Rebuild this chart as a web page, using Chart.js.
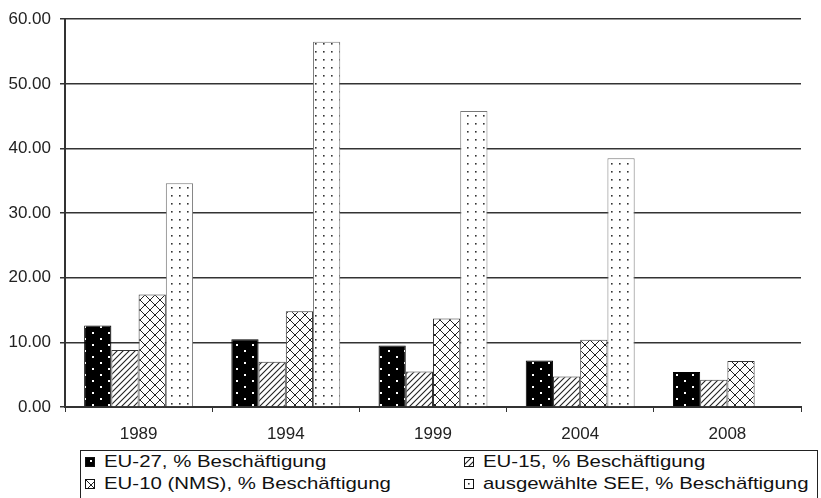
<!DOCTYPE html>
<html>
<head>
<meta charset="utf-8">
<script src="https://cdn.jsdelivr.net/npm/chart.js@4/dist/chart.umd.min.js"></script>
<style>
  html, body { margin: 0; padding: 0; background: #fff; }
  body { width: 821px; height: 498px; overflow: hidden; position: relative;
         font-family: "Liberation Sans", Arial, sans-serif; }
  #wrap { position: absolute; left: 0; top: 0; width: 821px; height: 450px; }
  #legend { position: absolute; left: 80px; top: 450px; width: 738px; height: 54px;
            border: 1px solid #222; box-sizing: border-box; }
  .item { position: absolute; font-size: 17px; color: #111; white-space: nowrap;
          line-height: 22px; display: flex; align-items: center; }
  .item canvas { border: 1px solid #111; margin-right: 9px; }
  .item span { display: inline-block; transform: scaleX(1.2); transform-origin: left center; }
</style>
</head>
<body>
<div id="wrap"><canvas id="chart" width="821" height="450"></canvas></div>
<div id="legend"></div>
<script>
// Survey years on the category axis
const years = ['1989', '1994', '1999', '2004', '2008'];

// Employment shares (%) per region group
const eu27 = [12.6, 10.5, 9.5, 7.2, 5.4];
const eu15 = [8.8, 7.0, 5.5, 4.7, 4.2];
const eu10 = [17.4, 14.8, 13.7, 10.4, 7.1];
const see  = [34.6, 56.5, 45.8, 38.5, null];

const seriesNames = [
  'EU-27, % Beschäftigung',
  'EU-15, % Beschäftigung',
  'EU-10 (NMS), % Beschäftigung',
  'ausgewählte SEE, % Beschäftigung'
];

// Y axis range and step
const yMin = 0, yMax = 60, yStep = 10;

// ---- fill patterns -------------------------------------------------------
function makeTile(w, h, draw) {
  const c = document.createElement('canvas');
  c.width = w; c.height = h;
  draw(c.getContext('2d'), w, h);
  return c;
}
const tiles = {
  // black with sparse white dots
  dotsOnBlack: makeTile(16, 12, (g, w, h) => {
    g.fillStyle = '#000'; g.fillRect(0, 0, w, h);
    g.fillStyle = '#fff';
    g.fillRect(4, 2, 2, 2); g.fillRect(12, 8, 2, 2);
  }),
  // forward diagonal hatch
  diagonal: makeTile(6, 6, (g, w, h) => {
    g.fillStyle = '#fff'; g.fillRect(0, 0, w, h);
    g.strokeStyle = '#222'; g.lineWidth = 1.1;
    g.beginPath();
    g.moveTo(-1, h + 1); g.lineTo(w + 1, -1);
    g.moveTo(-1, 1); g.lineTo(1, -1);
    g.moveTo(w - 1, h + 1); g.lineTo(w + 1, h - 1);
    g.stroke();
  }),
  // diagonal cross hatch
  crossHatch: makeTile(10, 10, (g, w, h) => {
    g.fillStyle = '#fff'; g.fillRect(0, 0, w, h);
    g.strokeStyle = '#222'; g.lineWidth = 1;
    g.beginPath();
    g.moveTo(0, 0); g.lineTo(w, h);
    g.moveTo(w, 0); g.lineTo(0, h);
    g.stroke();
  }),
  // white with small dark dots on a square grid
  dotsOnWhite: makeTile(8, 8, (g, w, h) => {
    g.fillStyle = '#fff'; g.fillRect(0, 0, w, h);
    g.fillStyle = '#333';
    g.fillRect(3, 3, 1.6, 1.6);
  })
};
const tileKeys = ['dotsOnBlack', 'diagonal', 'crossHatch', 'dotsOnWhite'];

const ctx = document.getElementById('chart').getContext('2d');
const fills = tileKeys.map(k => ctx.createPattern(tiles[k], 'repeat'));
const borders = ['#000', '#333', '#333', '#777'];
const values = [eu27, eu15, eu10, see];
const tickFont = { family: '"Liberation Sans", Arial, sans-serif', size: 17 };

const chart = new Chart(ctx, {
  type: 'bar',
  data: {
    labels: years,
    datasets: values.map((v, i) => ({
      label: seriesNames[i],
      data: v,
      backgroundColor: fills[i],
      borderColor: borders[i],
      borderWidth: 1,
      categoryPercentage: 0.74,
      barPercentage: 1.0
    }))
  },
  options: {
    responsive: false,
    animation: false,
    layout: { padding: { left: 0, right: 20, top: 14, bottom: 0 } },
    plugins: { legend: { display: false }, tooltip: { enabled: false } },
    scales: {
      x: {
        grid: { display: true, drawOnChartArea: false, drawTicks: true, tickLength: 5,
                color: '#333', lineWidth: 1 },
        border: { color: '#333', width: 2 },
        ticks: { color: '#222', font: tickFont, padding: 12 },
        afterFit(s) { s.height = 43; }
      },
      y: {
        min: yMin, max: yMax,
        ticks: { stepSize: yStep, callback: v => v.toFixed(2), color: '#222',
                 font: tickFont, padding: 9 },
        grid: { color: '#333', lineWidth: 1.5, tickLength: 5 },
        border: { color: '#333', width: 2 },
        afterFit(s) { s.width = 65; }
      }
    }
  }
});

// ---- legend built from the chart's datasets ------------------------------
const legend = document.getElementById('legend');
const pos = [[4, 0], [383, 0], [4, 22], [383, 22]];
chart.data.datasets.forEach((ds, i) => {
  const item = document.createElement('div');
  item.className = 'item';
  item.style.left = pos[i][0] + 'px';
  item.style.top = pos[i][1] + 'px';
  const sw = document.createElement('canvas');
  sw.width = 8; sw.height = 8;
  const g = sw.getContext('2d');
  g.fillStyle = g.createPattern(tiles[tileKeys[i]], 'repeat');
  g.fillRect(0, 0, 8, 8);
  item.appendChild(sw);
  const t = document.createElement('span');
  t.textContent = ds.label;
  item.appendChild(t);
  legend.appendChild(item);
});
</script>
</body>
</html>
